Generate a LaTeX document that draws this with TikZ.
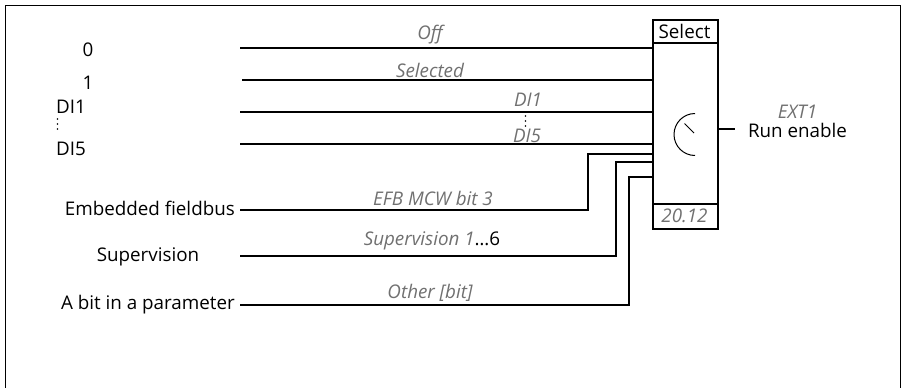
\documentclass[tikz,border=0pt]{standalone}
\usepackage{fontspec}
\setmainfont{Open Sans}
\definecolor{lblgray}{RGB}{112,112,112}
\tikzset{
  wire/.style={line width=2pt, line cap=butt, line join=miter},
  txt/.style={inner sep=0pt, font=\fontsize{18.8}{21}\selectfont},
  itl/.style={txt, text=lblgray, font=\fontsize{18.8}{21}\selectfont\itshape},
  boxline/.style={line width=2pt},
}
\begin{document}
\begin{tikzpicture}[x=1pt,y=-1pt]
\useasboundingbox (0,0) rectangle (902,388);
% frame
\draw[line width=1.3pt] (5.5,390) -- (5.5,5.5) -- (900.5,5.5) -- (900.5,390);
% select block
\node[draw, boxline, minimum width=65pt, minimum height=209pt, inner sep=0pt, anchor=north west] (box) at (652,19) {};
\coordinate (hdr) at (652,43);
\coordinate (ftr) at (652,204);
\draw[boxline] (hdr) -- (hdr -| box.east);
\draw[boxline] (ftr) -- (ftr -| box.east);
\node[txt] (selt) at (684.5,31) {Select};
\node[itl] (num) at (684.5,216) {20.12};
% dial
\draw[line width=1pt] (695,155.5) arc[start angle=90, end angle=270, radius=21];
\draw[line width=1pt] (684.5,123.5) -- (694,133);
% output
\coordinate (outs) at (717,128.5);
\coordinate (oute) at (735,128.5);
\draw[wire] (outs) -- (oute);
\node[itl] (ext) at (797.5,111.5) {EXT1};
\node[txt] (run) at (797.5,130) {Run enable};
% left labels
\node[txt] (l0) at (88,50) {0};
\node[txt] (l1) at (88,83) {1};
\node[txt, anchor=west] (ldi1) at (56,107) {DI1};
\node[txt, anchor=west] (ldi5) at (56,149) {DI5};
\foreach \yy in {119,124,129} \fill (57.5,\yy) circle[radius=0.9pt];
\node[txt, anchor=east] (lefb) at (235,208) {Embedded fieldbus};
\node[txt] (lsup) at (148,257) {Supervision};
\node[txt, anchor=east] (lbit) at (235,305) {A bit in a parameter};
% start coordinates
\coordinate (s0) at (240,48);
\coordinate (s1) at (242,80);
\coordinate (s2) at (240,112);
\coordinate (s3) at (240,144);
\coordinate (s4) at (240,210);
\coordinate (s5) at (240,256);
\coordinate (s6) at (240,305);
% straight wires
\draw[wire] (s0) -- (s0 -| box.west);
\draw[wire] (s1) -- ([xshift=2pt]s1 -| box.west);
\draw[wire] (s2) -- (s2 -| box.west);
\draw[wire] (s3) -- (s3 -| box.west);
% bent wires
\draw[wire] (s4) -- (588,210) -- (588,154) -- (box.west |- 0,154);
\draw[wire] (s5) -- (616,256) -- (616,162) -- (box.west |- 0,162);
\draw[wire] (s6) -- (629,305) -- (629,177) -- (box.west |- 0,177);
% wire labels
\node[itl] (toff) at (430,35) {Off};
\node[itl] (tsel) at (430,70) {Selected};
\node[itl] (tdi1) at (528,100) {DI1};
\node[itl] (tdi5) at (527,136) {DI5};
\foreach \yy in {116,121,126} \fill (525.5,\yy) circle[radius=0.9pt];
\node[itl] (tefb) at (433,198) {EFB MCW bit 3};
\node[itl] (tsup) at (432,241) {Supervision 1\textcolor{black}{\upshape …6}};
\node[itl] (toth) at (430,293) {Other [bit]};
\end{tikzpicture}
\end{document}
